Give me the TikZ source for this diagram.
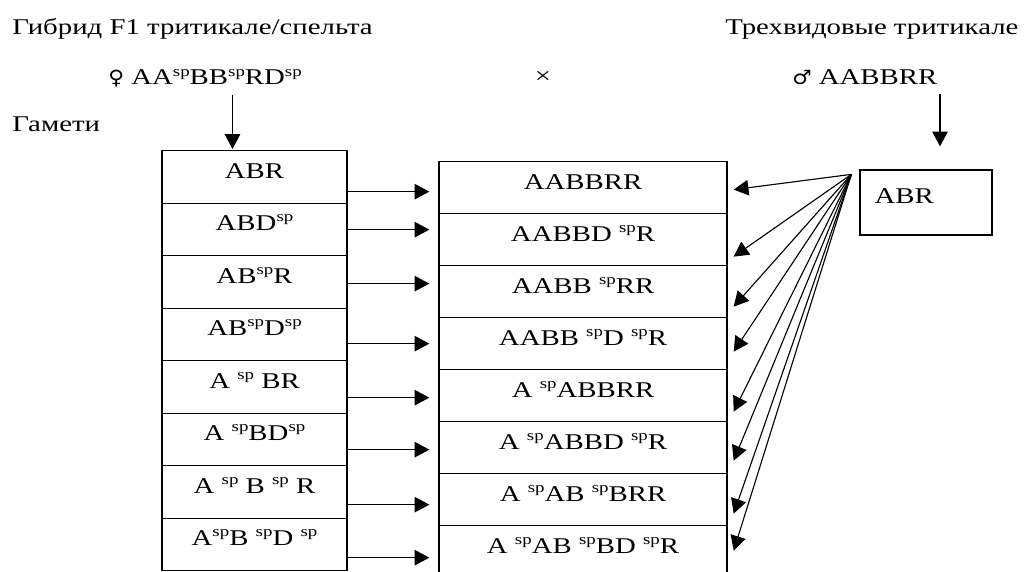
\documentclass[tikz,border=0pt]{standalone}
\usepackage{fontspec}
\setmainfont[FakeStretch=1.28]{Liberation Serif}
\newfontfamily\symfont[FakeStretch=1.1]{DejaVu Sans}
\usetikzlibrary{arrows.meta,calc}

% superscript "sp"
\newcommand\ssp{\raisebox{6.3pt}{\fontsize{10.5}{10.5}\selectfont sp}}

\tikzset{
  arr/.style={-{Triangle[length=10.5pt,width=11pt]}, line width=0.8pt},
  row/.style={draw, line width=0.9pt, anchor=north, inner sep=0pt,
    text height=12pt, text depth=10pt},
  lrow/.style={row, minimum width=4.625cm, minimum height=1.3125cm},
  mrow/.style={row, minimum width=7.2cm, minimum height=1.3cm},
  txt/.style={anchor=base west, inner sep=0pt},
}

\begin{document}
\begin{tikzpicture}[x=0.025cm, y=-0.025cm, font=\fontsize{16}{19}\selectfont]
\useasboundingbox (0,0) rectangle (1029,571);
\clip (0,0) rectangle (1029,571);

% parents
\node[txt] (hyb) at (12,35) {Гибрид F1 тритикале/спельта};
\node[txt] (tri) at (725,35) {Трехвидовые тритикале};
\node[txt] (fem) at (108,85) {{\symfont\fontsize{14}{14}\selectfont ♀} AA\ssp BB\ssp RD\ssp};
\node[txt] (male) at (792,85) {{\symfont\fontsize{14}{14}\selectfont ♂} AABBRR};
\node[inner sep=0pt] (cross) at (543,77) {×};
\node[txt] (gam) at (12,132) {Гамети};

% female gametes
\foreach \i/\t in {1/ABR, 2/ABD\ssp, 3/AB\ssp R, 4/AB\ssp D\ssp,
    5/A \ssp{} BR, 6/A \ssp BD\ssp, 7/A \ssp{} B \ssp{} R, 8/A\ssp B \ssp D \ssp}
  \node[lrow] (l\i) at (254.5,{150+52.5*(\i-1)}) {\t};

% offspring
\foreach \i/\t in {1/AABBRR, 2/AABBD \ssp R, 3/AABB \ssp RR, 4/AABB \ssp D \ssp R,
    5/A \ssp ABBRR, 6/A \ssp ABBD \ssp R, 7/A \ssp AB \ssp BRR, 8/A \ssp AB \ssp BD \ssp R}
  \node[mrow] (m\i) at (583,{161+52*(\i-1)}) {\t};

% male gamete
\node[draw, line width=0.9pt, minimum width=3.3cm, minimum height=1.625cm, inner sep=0pt] (g) at (926,202.5) {};
\node[txt] (gl) at ($(g.west)+(15,0.5)$) {ABR};

\coordinate (ftip) at ($(l1.north)+(-22,-1)$);
\coordinate (mtip) at ($(g.north)+(14,-23)$);
\coordinate (src) at ($(g.north west)+(-8,5)$);

\draw[arr] ($(ftip)+(0,-54)$) -- (ftip);
\draw[arr] ($(mtip)+(0,-52)$) -- (mtip);

\foreach \i/\d in {1/4,2/-10,3/-8,4/0,5/2,6/2,7/5,8/6}
  \draw[arr] ($(l\i.east |- m\i.west)+(0,\d)$) -- ($(m\i.west)+(-9,\d)$);

\foreach \i/\d in {1/2,2/17,3/15,4/8,5/16,6/13,7/14,8/-1}
  \draw[arr] (src) -- ($(m\i.east)+(6,\d)$);
\end{tikzpicture}
\end{document}
